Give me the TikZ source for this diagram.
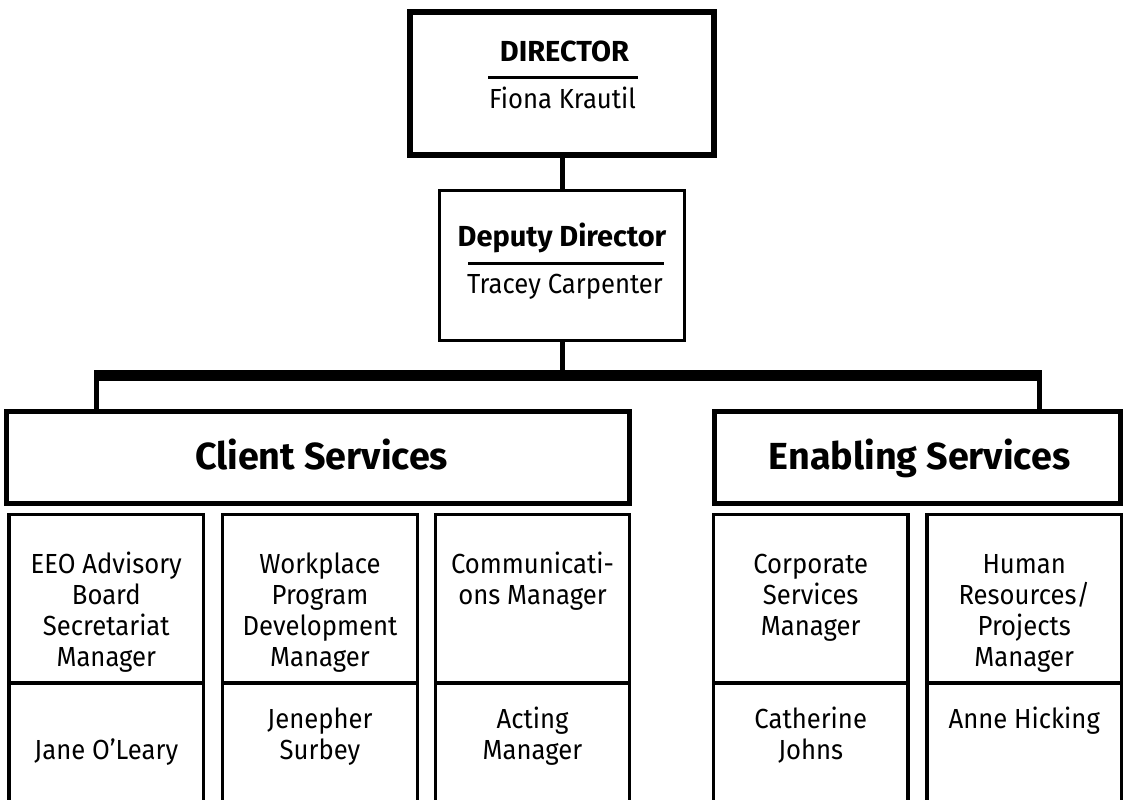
\documentclass[tikz,border=0pt]{standalone}
\usepackage{fontspec}
\setmainfont{Fira Sans}[FakeStretch=0.93, BoldFeatures={FakeStretch=1.0}]
\newcommand\orgtext{\fontsize{27.6}{31}\selectfont}
\newcommand\orghead{\fontsize{29}{32}\selectfont\bfseries}
\newcommand\orgunit{\fontsize{37.7}{40}\selectfont\bfseries}
% stacked lines whose base is the first line
\newcommand\celllines[1]{\begin{tabular}[t]{@{}c@{}}#1\end{tabular}}

\begin{document}
\begin{tikzpicture}[x=1pt, y=-1pt,
  topbox/.style={draw, line width=6.5pt, minimum width=304pt, minimum height=143pt},
  deputybox/.style={draw, line width=3.3pt, minimum width=245pt, minimum height=150pt},
  unitbox/.style={draw, line width=5pt, minimum height=92pt},
  rolebox/.style={draw, line width=3.3pt, minimum width=194.5pt, minimum height=168.5pt},
  namebox/.style={rolebox, minimum height=177pt},
  celltext/.style={anchor=base, inner sep=0pt, font=\orgtext},
  titlerule/.style={line width=2.5pt},
  link/.style={line width=5pt},
  bus/.style={line width=10.5pt, shorten <=-2.5pt, shorten >=-2.5pt}]
\useasboundingbox (0,0) rectangle (1124,800);
\clip (0,0) rectangle (1124,800);

% director and deputy
\node[topbox] (dir) at (562,83.3) {};
\node[celltext, font=\orghead] (dirtitle) at (564.5,62) {DIRECTOR};
\node[celltext] (dirname) at (562.5,108) {Fiona Krautil};
\draw[titlerule] (488,77.3) -- (638,77.3);

\node[deputybox] (dep) at (562,265.8) {};
\node[celltext, font=\orghead] (deptitle) at (562,246) {Deputy Director};
\node[celltext] (depname) at (565,293) {Tracey Carpenter};
\draw[titlerule] (468,263.7) -- (664,263.7);

\draw[link] (dir) -- (dep);

% the two service groups
\node[unitbox, minimum width=623pt] (client) at (318.2,457.5) {};
\node[celltext, font=\orgunit] (clienttext) at (321.5,469) {Client Services};
\node[unitbox, minimum width=406pt] (enabling) at (917.2,457.5) {};
\node[celltext, font=\orgunit] (enablingtext) at (919.5,469) {Enabling Services};

% bus bar
\coordinate (busL) at (96.5,375.5);
\coordinate (busR) at (1039.5,375.5);
\draw[bus] (busL) -- (busR);
\draw[link] (dep.south) -- (dep.south |- busL);
\draw[link] (busL) -- (busL |- client.north);
\draw[link] (busR) -- (busR |- enabling.north);

% managers: role on top, name below
\node[rolebox] (eeo) at (106.3,598.8) {};
\node[namebox] (eeoname) at (106.3,771.5) {};
\node[celltext] (eeotext) at (106.3,573) {\celllines{EEO Advisory\\Board\\Secretariat\\Manager}};
\node[celltext] (eeowho) at (106.3,759) {Jane O’Leary};

\node[rolebox] (wpd) at (320,598.8) {};
\node[namebox] (wpdname) at (320,771.5) {};
\node[celltext] (wpdtext) at (320,573) {\celllines{Workplace\\Program\\Development\\Manager}};
\node[celltext] (wpdwho) at (320,728) {\celllines{Jenepher\\Surbey}};

\node[rolebox] (comms) at (532.5,598.8) {};
\node[namebox] (commsname) at (532.5,771.5) {};
\node[celltext] (commstext) at (532.5,573) {\celllines{Communicati-\\ons Manager}};
\node[celltext] (commswho) at (532.5,728) {\celllines{Acting\\Manager}};

\node[rolebox] (corp) at (810.7,598.8) {};
\node[namebox] (corpname) at (810.7,771.5) {};
\node[celltext] (corptext) at (810.7,573) {\celllines{Corporate\\Services\\Manager}};
\node[celltext] (corpwho) at (810.7,728) {\celllines{Catherine\\Johns}};

\node[rolebox] (hr) at (1024.2,598.8) {};
\node[namebox] (hrname) at (1024.2,771.5) {};
\node[celltext] (hrtext) at (1024.2,573) {\celllines{Human\\Resources/\\Projects\\Manager}};
\node[celltext] (hrwho) at (1024.2,728) {Anne Hicking};
\end{tikzpicture}
\end{document}
